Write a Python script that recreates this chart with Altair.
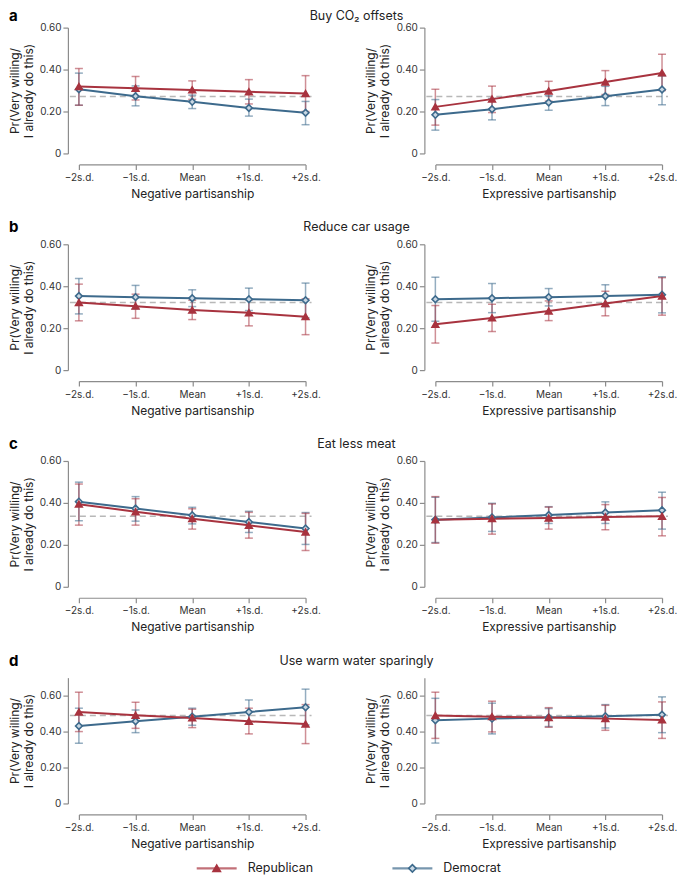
import altair as alt
import pandas as pd

RED = "#a8333f"
BLUE = "#3d6a8c"
DEM_FILL = "#c9d7e3"
FONT = "Inter"

LETTERS = ["a", "b", "c", "d"]
ROW_TITLES = ["Buy CO₂ offsets", "Reduce car usage", "Eat less meat", "Use warm water sparingly"]
LEVELS = ["−2s.d.", "−1s.d.", "Mean", "+1s.d.", "+2s.d."]
X_TITLES = ["Negative partisanship", "Expressive partisanship"]
PARTIES = ["Republican", "Democrat"]
REF = [0.271, 0.322, 0.336, 0.489]
Y_MAX = [0.6, 0.6, 0.6, 0.7]
Y_TICKS = [0, 0.2, 0.4, 0.6]

# ---- a: Buy CO2 offsets ----
a_neg_rep = [0.319, 0.311, 0.303, 0.294, 0.286]
a_neg_rep_lo = [0.230, 0.255, 0.258, 0.236, 0.200]
a_neg_rep_hi = [0.405, 0.367, 0.346, 0.352, 0.371]
a_neg_dem = [0.306, 0.273, 0.246, 0.217, 0.194]
a_neg_dem_lo = [0.230, 0.227, 0.214, 0.178, 0.137]
a_neg_dem_hi = [0.383, 0.322, 0.278, 0.259, 0.248]

a_exp_rep = [0.222, 0.259, 0.298, 0.341, 0.384]
a_exp_rep_lo = [0.135, 0.195, 0.249, 0.281, 0.300]
a_exp_rep_hi = [0.306, 0.321, 0.344, 0.395, 0.473]
a_exp_dem = [0.184, 0.211, 0.243, 0.273, 0.305]
a_exp_dem_lo = [0.111, 0.160, 0.206, 0.228, 0.232]
a_exp_dem_hi = [0.257, 0.262, 0.275, 0.320, 0.370]

# ---- b: Reduce car usage ----
b_neg_rep = [0.322, 0.305, 0.287, 0.273, 0.255]
b_neg_rep_lo = [0.235, 0.247, 0.241, 0.211, 0.169]
b_neg_rep_hi = [0.410, 0.362, 0.333, 0.335, 0.340]
b_neg_dem = [0.353, 0.348, 0.343, 0.338, 0.333]
b_neg_dem_lo = [0.268, 0.292, 0.303, 0.284, 0.249]
b_neg_dem_hi = [0.437, 0.404, 0.383, 0.391, 0.415]

b_exp_rep = [0.219, 0.249, 0.282, 0.318, 0.353]
b_exp_rep_lo = [0.129, 0.184, 0.236, 0.259, 0.262]
b_exp_rep_hi = [0.308, 0.314, 0.330, 0.376, 0.441]
b_exp_dem = [0.338, 0.343, 0.348, 0.354, 0.359]
b_exp_dem_lo = [0.233, 0.274, 0.306, 0.303, 0.273]
b_exp_dem_hi = [0.443, 0.413, 0.389, 0.407, 0.445]

# ---- c: Eat less meat ----
c_neg_rep = [0.394, 0.358, 0.325, 0.293, 0.261]
c_neg_rep_lo = [0.294, 0.294, 0.275, 0.232, 0.173]
c_neg_rep_hi = [0.490, 0.420, 0.372, 0.355, 0.350]
c_neg_dem = [0.406, 0.373, 0.341, 0.309, 0.278]
c_neg_dem_lo = [0.315, 0.313, 0.300, 0.259, 0.202]
c_neg_dem_hi = [0.499, 0.430, 0.379, 0.360, 0.354]

c_exp_rep = [0.320, 0.325, 0.328, 0.333, 0.336]
c_exp_rep_lo = [0.208, 0.251, 0.275, 0.272, 0.243]
c_exp_rep_hi = [0.430, 0.395, 0.380, 0.392, 0.426]
c_exp_dem = [0.320, 0.331, 0.342, 0.354, 0.365]
c_exp_dem_lo = [0.211, 0.264, 0.302, 0.302, 0.275]
c_exp_dem_hi = [0.427, 0.398, 0.382, 0.405, 0.451]

# ---- d: Use warm water sparingly ----
d_neg_rep = [0.509, 0.491, 0.476, 0.457, 0.442]
d_neg_rep_lo = [0.400, 0.418, 0.422, 0.387, 0.333]
d_neg_rep_hi = [0.619, 0.563, 0.524, 0.530, 0.550]
d_neg_dem = [0.431, 0.457, 0.483, 0.509, 0.535]
d_neg_dem_lo = [0.335, 0.394, 0.435, 0.444, 0.437]
d_neg_dem_hi = [0.530, 0.520, 0.530, 0.576, 0.636]

d_exp_rep = [0.489, 0.483, 0.478, 0.472, 0.465]
d_exp_rep_lo = [0.362, 0.398, 0.424, 0.407, 0.362]
d_exp_rep_hi = [0.619, 0.569, 0.533, 0.546, 0.565]
d_exp_dem = [0.463, 0.472, 0.478, 0.485, 0.494]
d_exp_dem_lo = [0.336, 0.387, 0.428, 0.420, 0.394]
d_exp_dem_hi = [0.585, 0.558, 0.528, 0.550, 0.593]

PANELS = [
    [
        {"Republican": (a_neg_rep, a_neg_rep_lo, a_neg_rep_hi), "Democrat": (a_neg_dem, a_neg_dem_lo, a_neg_dem_hi)},
        {"Republican": (a_exp_rep, a_exp_rep_lo, a_exp_rep_hi), "Democrat": (a_exp_dem, a_exp_dem_lo, a_exp_dem_hi)},
    ],
    [
        {"Republican": (b_neg_rep, b_neg_rep_lo, b_neg_rep_hi), "Democrat": (b_neg_dem, b_neg_dem_lo, b_neg_dem_hi)},
        {"Republican": (b_exp_rep, b_exp_rep_lo, b_exp_rep_hi), "Democrat": (b_exp_dem, b_exp_dem_lo, b_exp_dem_hi)},
    ],
    [
        {"Republican": (c_neg_rep, c_neg_rep_lo, c_neg_rep_hi), "Democrat": (c_neg_dem, c_neg_dem_lo, c_neg_dem_hi)},
        {"Republican": (c_exp_rep, c_exp_rep_lo, c_exp_rep_hi), "Democrat": (c_exp_dem, c_exp_dem_lo, c_exp_dem_hi)},
    ],
    [
        {"Republican": (d_neg_rep, d_neg_rep_lo, d_neg_rep_hi), "Democrat": (d_neg_dem, d_neg_dem_lo, d_neg_dem_hi)},
        {"Republican": (d_exp_rep, d_exp_rep_lo, d_exp_rep_hi), "Democrat": (d_exp_dem, d_exp_dem_lo, d_exp_dem_hi)},
    ],
]

W, H = 227, 126

color_scale = alt.Scale(domain=PARTIES, range=[RED, BLUE])
fill_scale = alt.Scale(domain=PARTIES, range=[RED, DEM_FILL])
shape_scale = alt.Scale(domain=PARTIES, range=["triangle-up", "diamond"])


def legend_layers():
    leg_df = pd.DataFrame({"party": PARTIES})
    lx = alt.X("party:N", scale=alt.Scale(type="point", domain=PARTIES, range=[138, 334], padding=0), axis=None)
    ly = alt.value(191)
    leg_line = alt.Chart(leg_df).mark_tick(orient="horizontal", size=40, thickness=2.2).encode(
        x=lx, y=ly, color=alt.Color("party:N", scale=color_scale, legend=None)
    )
    leg_pts = alt.Chart(leg_df).mark_point(filled=True, size=55, strokeWidth=1.6, opacity=1).encode(
        x=lx,
        y=ly,
        shape=alt.Shape("party:N", scale=shape_scale, legend=None),
        fill=alt.Fill("party:N", scale=fill_scale, legend=None),
        stroke=alt.Stroke("party:N", scale=color_scale, legend=None),
    )
    leg_txt = alt.Chart(leg_df).mark_text(
        align="left", baseline="middle", dx=31, fontSize=12.5, font=FONT, color="#222"
    ).encode(x=lx, y=ly, text="party:N")
    return [leg_line, leg_pts, leg_txt]


def make_panel(i, j):
    recs = []
    for party in ["Democrat", "Republican"]:
        est, lo, hi = PANELS[i][j][party]
        for k, lev in enumerate(LEVELS):
            recs.append({"level": lev, "party": party, "est": est[k], "lo": lo[k], "hi": hi[k]})
    df = pd.DataFrame(recs)
    with_legend = (i == 3 and j == 0)

    xscale = alt.Scale(type="point", padding=0, domain=LEVELS)
    xaxis = alt.Axis(title=X_TITLES[j], offset=11, labelAngle=0, labelPadding=3, titlePadding=6)
    x_main = alt.X("level:O", sort=LEVELS, scale=xscale, axis=xaxis)
    x_other = alt.X("level:O", sort=LEVELS, scale=xscale, axis=None) if with_legend else x_main
    yscale = alt.Scale(domain=[0, Y_MAX[i]], nice=False, zero=True)
    yaxis = alt.Axis(
        values=Y_TICKS,
        labelExpr="datum.value == 0 ? '0' : format(datum.value, '.2f')",
        offset=11,
        title=["Pr(Very willing/", "I already do this)"],
        titlePadding=4,
        labelPadding=2,
    )
    col = alt.Color("party:N", scale=color_scale, legend=None)

    base = alt.Chart(df)
    ref = alt.Chart(pd.DataFrame({"ref": [REF[i]]})).mark_rule(
        strokeDash=[6, 4], color="#b8b8b8", strokeWidth=1.5
    ).encode(y=alt.Y("ref:Q", scale=yscale, axis=yaxis), x=alt.value(-9), x2=alt.value(W + 6))

    err = base.mark_rule(strokeWidth=1.5, opacity=0.55).encode(
        x=x_main, y=alt.Y("lo:Q", scale=yscale, axis=yaxis), y2="hi:Q", color=col
    )
    cap_lo = base.mark_tick(orient="horizontal", size=8, thickness=1.5, opacity=0.55).encode(
        x=x_other, y=alt.Y("lo:Q", scale=yscale, axis=yaxis), color=col
    )
    cap_hi = base.mark_tick(orient="horizontal", size=8, thickness=1.5, opacity=0.55).encode(
        x=x_other, y=alt.Y("hi:Q", scale=yscale, axis=yaxis), color=col
    )
    line = base.mark_line(strokeWidth=2).encode(
        x=x_other, y=alt.Y("est:Q", scale=yscale, axis=yaxis), color=col, detail="party:N"
    )
    pts = base.mark_point(filled=True, size=45, strokeWidth=1.6, opacity=1).encode(
        x=x_other,
        y=alt.Y("est:Q", scale=yscale, axis=yaxis),
        shape=alt.Shape("party:N", scale=shape_scale, legend=None),
        fill=alt.Fill("party:N", scale=fill_scale, legend=None),
        stroke=alt.Stroke("party:N", scale=color_scale, legend=None),
    )
    layers = [ref, err, cap_lo, cap_hi, line, pts]
    if j == 0:
        ty = -12 if i == 0 else -17
        title = alt.Chart(pd.DataFrame({"t": [ROW_TITLES[i]]})).mark_text(
            fontSize=12.5, font=FONT, align="center", baseline="middle", color="#222"
        ).encode(text="t:N", x=alt.value(278), y=alt.value(ty))
        letter = alt.Chart(pd.DataFrame({"t": [LETTERS[i]]})).mark_text(
            fontSize=15, font=FONT, fontWeight="bold", align="left", baseline="middle", color="#000"
        ).encode(text="t:N", x=alt.value(-70), y=alt.value(ty))
        layers += [title, letter]
    if with_legend:
        layers += legend_layers()
        return alt.layer(*layers).resolve_scale(x="independent").properties(width=W, height=H)
    return alt.layer(*layers).properties(width=W, height=H)


panels = []
for i in range(4):
    for j in range(2):
        panels.append(make_panel(i, j))

chart = (
    alt.concat(*panels, columns=2, spacing={"row": 91, "column": 130}, bounds="flush")
    .resolve_scale(x="independent", y="independent", color="independent", shape="independent", fill="independent", stroke="independent")
    .properties(padding=0, background="white")
    .configure_view(stroke=None)
    .configure_axis(
        grid=False,
        domainColor="#8c8c8c",
        tickColor="#8c8c8c",
        domainWidth=1.2,
        tickWidth=1.2,
        tickSize=5,
        labelColor="#333333",
        titleColor="#222222",
        labelFont=FONT,
        titleFont=FONT,
        labelFontSize=10,
        titleFontSize=12,
        titleFontWeight="normal",
    )
)

chart.save("out.html", embed_options={"renderer": "svg", "actions": False})
